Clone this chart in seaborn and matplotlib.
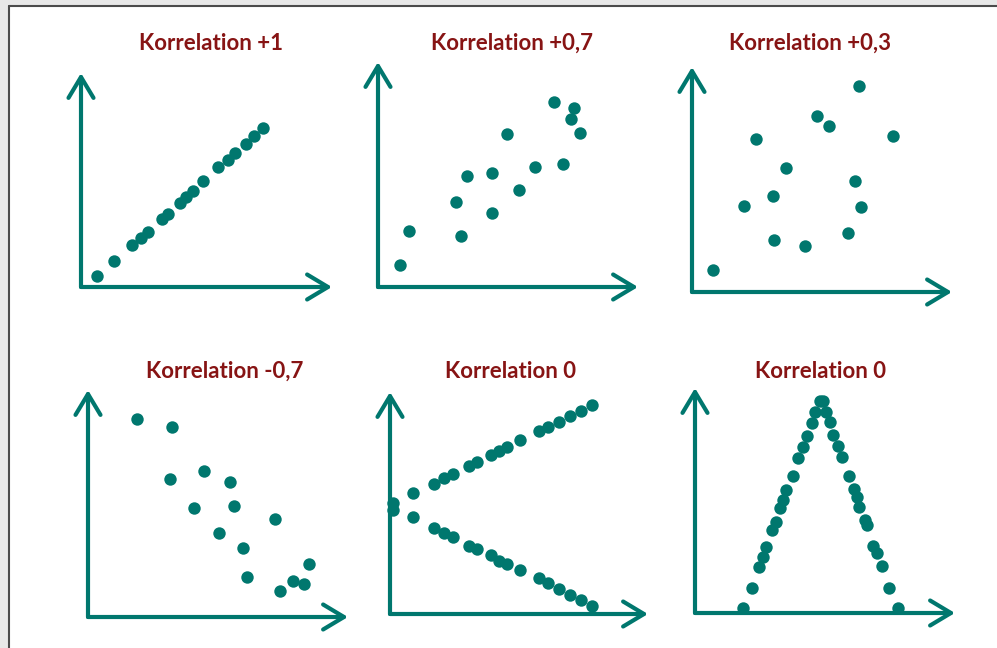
import matplotlib
matplotlib.use('Agg')
import matplotlib.pyplot as plt
import seaborn as sns
from matplotlib.patches import Rectangle
from matplotlib.lines import Line2D

# Werte je Diagramm (Abstand vom Ursprung, in Pixeln gemessen)
titel = ['Korrelation +1', 'Korrelation +0,7', 'Korrelation +0,3',
         'Korrelation -0,7', 'Korrelation 0', 'Korrelation 0']

x_p1 = [16, 33, 51, 60, 67, 81, 87, 99, 105, 112, 122, 137, 147, 154, 165, 173, 182]
y_p1 = [11, 26, 42, 49, 55, 68, 73, 84, 90, 96, 106, 120, 127, 134, 143, 151, 159]

x_p2 = [22, 31, 78, 83, 89, 114, 114, 129, 141, 157, 176, 185, 196, 193, 202]
y_p2 = [22, 56, 85, 51, 111, 114, 74, 153, 97, 120, 185, 123, 179, 168, 154]

x_p3 = [21, 52, 64, 81, 94, 82, 113, 125, 137, 156, 163, 169, 167, 201]
y_p3 = [22, 86, 153, 96, 124, 52, 46, 176, 166, 59, 111, 85, 206, 156]

x_p4 = [49, 84, 82, 116, 142, 106, 146, 131, 187, 155, 159, 192, 205, 216, 221]
y_p4 = [198, 190, 138, 146, 135, 109, 111, 84, 98, 69, 40, 26, 36, 33, 53]

x_p5 = [3, 23, 44, 54, 63, 79, 87, 101, 109, 117, 130, 149, 158, 169, 180, 191, 202]
y_p5_oben = [111, 121, 130, 136, 140, 148, 152, 159, 163, 167, 174, 183, 187, 192, 198, 203, 209]
y_p5_unten = [104, 97, 86, 81, 77, 68, 65, 59, 53, 50, 44, 36, 31, 25, 19, 14, 8]

x_p6 = [48, 57, 64, 68, 71, 77, 81, 85, 88, 91, 98, 103, 108, 112, 117, 120, 125,
        128, 131, 135, 138, 143, 147, 154, 159, 162, 164, 170, 172, 178, 182, 187, 194, 203]
y_p6 = [5, 25, 46, 56, 66, 83, 91, 105, 113, 123, 137, 155, 166, 177, 190, 201, 212,
        212, 201, 191, 178, 167, 156, 137, 124, 116, 106, 93, 88, 67, 60, 47, 25, 5]

daten = [
    (x_p1, y_p1),
    (x_p2, y_p2),
    (x_p3, y_p3),
    (x_p4, y_p4),
    (x_p5 + x_p5, y_p5_oben + y_p5_unten),
    (x_p6, y_p6),
]

# Layout: Ursprung und Pfeilspitzen in Pixeln, Titelmitte
W, H = 997, 648
ursprung = [(81, 287), (378, 287), (692, 292), (88, 617), (390, 614), (695, 613)]
spitzen = [(332, 73), (638, 62), (952, 67), (348, 390), (648, 392), (955, 388)]
titel_pos = [(211, 43), (512, 43), (810, 43), (225, 371), (510, 371), (820, 371)]

TEAL = '#00776e'
ROT = '#871414'

sns.set_theme(style='white')
plt.rcParams['font.family'] = ['Lato', 'DejaVu Sans']

fig = plt.figure(figsize=(W / 100, H / 100), dpi=100, facecolor='#e8e8e8')

# weisser Rahmen mit dunkler Kante links und oben
fig.add_artist(Rectangle((9 / W, 0), 1 - 9 / W, (H - 6) / H, transform=fig.transFigure,
                         facecolor='white', edgecolor='none', zorder=0))
fig.add_artist(Line2D([8.5 / W, 8.5 / W], [0, (H - 5.5) / H], transform=fig.transFigure,
                      color='#4b4b4b', lw=1.5))
fig.add_artist(Line2D([8.5 / W, 1], [(H - 5.5) / H, (H - 5.5) / H], transform=fig.transFigure,
                      color='#4b4b4b', lw=1.5))

for i, (xs, ys) in enumerate(daten):
    ox, oy = ursprung[i]
    tx, ty = spitzen[i]
    ax = fig.add_axes([ox / W, (H - oy) / H, (tx - ox) / W, (oy - ty) / H])
    ax.set_xlim(0, tx - ox)
    ax.set_ylim(0, oy - ty)
    ax.axis('off')
    ax.patch.set_alpha(0)

    pfeil = dict(arrowstyle='->,head_length=0.75,head_width=0.45', lw=3, color=TEAL,
                 shrinkA=0, shrinkB=0, mutation_scale=20)
    ax.annotate('', xy=(tx - ox, 0), xytext=(0, 0), arrowprops=pfeil, annotation_clip=False)
    ax.annotate('', xy=(0, oy - ty), xytext=(0, 0), arrowprops=pfeil, annotation_clip=False)

    sns.scatterplot(x=xs, y=ys, ax=ax, s=80, color=TEAL, linewidth=0,
                    clip_on=False, zorder=3, legend=False)

    cx, cy = titel_pos[i]
    fig.text(cx / W, 1 - cy / H, titel[i], ha='center', va='center',
             fontsize=16, fontweight='bold', color=ROT)

fig.savefig('out.png', dpi=100, facecolor=fig.get_facecolor())
